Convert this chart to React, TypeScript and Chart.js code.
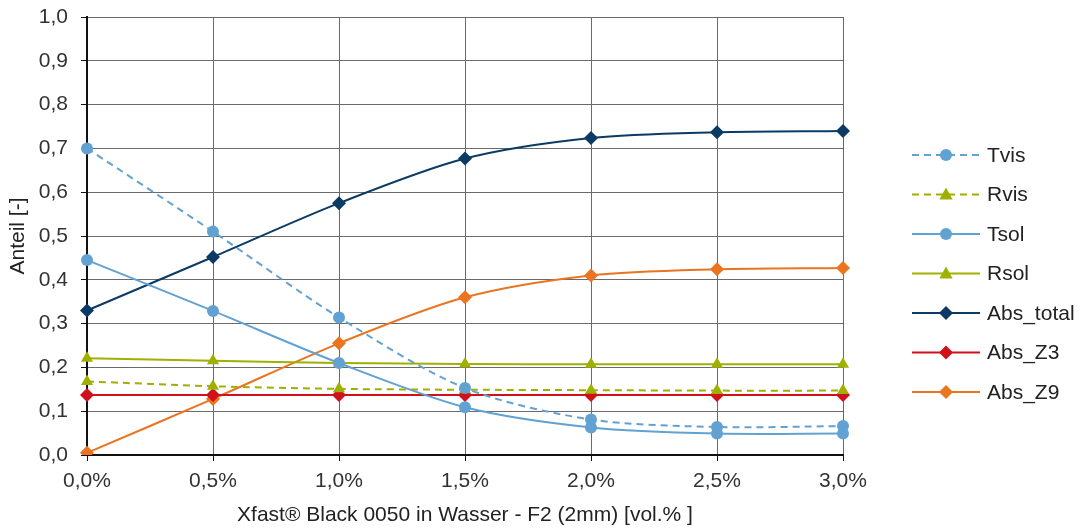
import React, { useEffect, useRef } from "react";
import { Chart, registerables } from "chart.js";

Chart.register(...registerables);

const categories = ["0,0%", "0,5%", "1,0%", "1,5%", "2,0%", "2,5%", "3,0%"];
const tvis = [0.70, 0.51, 0.314, 0.153, 0.081, 0.064, 0.066];
const rvis = [0.168, 0.157, 0.151, 0.149, 0.148, 0.147, 0.147];
const tsol = [0.445, 0.329, 0.21, 0.109, 0.063, 0.049, 0.049];
const rsol = [0.221, 0.215, 0.21, 0.208, 0.207, 0.207, 0.207];
const absTotal = [0.33, 0.452, 0.575, 0.677, 0.724, 0.737, 0.74];
const absZ3 = [0.137, 0.137, 0.137, 0.137, 0.137, 0.137, 0.137];
const absZ9 = [0.005, 0.128, 0.255, 0.36, 0.41, 0.424, 0.427];
const yTicks = [0, 0.1, 0.2, 0.3, 0.4, 0.5, 0.6, 0.7, 0.8, 0.9, 1.0];

const BLUE = "#62a2d2";
const GREEN = "#9fb000";
const NAVY = "#0b3b64";
const RED = "#d0101c";
const ORANGE = "#ea7420";
const FONT = "'Liberation Sans', Arial, sans-serif";

function drawMarker(ctx: CanvasRenderingContext2D, style: string, x: number, y: number, r: number, color: string) {
  ctx.save();
  ctx.fillStyle = color;
  ctx.setLineDash([]);
  ctx.beginPath();
  if (style === "circle") {
    ctx.arc(x, y, r, 0, Math.PI * 2);
  } else if (style === "triangle") {
    ctx.moveTo(x, y - r);
    ctx.lineTo(x + r * 0.95, y + r * 0.7);
    ctx.lineTo(x - r * 0.95, y + r * 0.7);
    ctx.closePath();
  } else {
    ctx.moveTo(x, y - r);
    ctx.lineTo(x + r, y);
    ctx.lineTo(x, y + r);
    ctx.lineTo(x - r, y);
    ctx.closePath();
  }
  ctx.fill();
  ctx.restore();
}

const legendPlugin = {
  id: "customLegend",
  afterDraw(chart: any) {
    const ctx = chart.ctx as CanvasRenderingContext2D;
    const ds = chart.data.datasets;
    ctx.save();
    ds.forEach((d: any, i: number) => {
      const y = 155 + i * 39.5;
      ctx.strokeStyle = d.borderColor;
      ctx.lineWidth = 2;
      ctx.setLineDash(d.borderDash || []);
      ctx.beginPath();
      ctx.moveTo(912, y);
      ctx.lineTo(980, y);
      ctx.stroke();
      drawMarker(ctx, d.legendStyle, 946, y, d.legendR, d.borderColor);
      ctx.setLineDash([]);
      ctx.fillStyle = "#222";
      ctx.font = "21px " + FONT;
      ctx.textBaseline = "middle";
      ctx.textAlign = "left";
      ctx.fillText(d.label, 987, y + 1);
    });
    ctx.restore();
  },
};

export default function App() {
  const ref = useRef<HTMLCanvasElement>(null);
  useEffect(() => {
    document.body.style.margin = "0";
    const mk = (label: string, data: number[], color: string, style: string, dashed: boolean) => ({
      label,
      data,
      borderColor: color,
      backgroundColor: color,
      pointBackgroundColor: color,
      pointBorderColor: color,
      pointStyle: style === "diamond" ? "rectRot" : style,
      legendStyle: style,
      legendR: style === "circle" ? 6 : 7,
      pointRadius: style === "circle" ? 6 : 7,
      pointBorderWidth: 0,
      borderWidth: 2,
      borderDash: dashed ? [7, 5] : [],
      tension: 0.3,
      fill: false,
    });
    const chart = new Chart(ref.current!, {
      type: "line",
      data: {
        labels: categories,
        datasets: [
          mk("Tvis", tvis, BLUE, "circle", true),
          mk("Rvis", rvis, GREEN, "triangle", true),
          mk("Tsol", tsol, BLUE, "circle", false),
          mk("Rsol", rsol, GREEN, "triangle", false),
          mk("Abs_total", absTotal, NAVY, "diamond", false),
          mk("Abs_Z3", absZ3, RED, "diamond", false),
          mk("Abs_Z9", absZ9, ORANGE, "diamond", false),
        ] as any,
      },
      options: {
        animation: false,
        responsive: false,
        layout: { padding: { left: 0, right: 1084 - 843, top: 17, bottom: 0 } },
        plugins: { legend: { display: false }, tooltip: { enabled: false } },
        scales: {
          x: {
            type: "category",
            offset: false,
            grid: { color: "#6a6a6a", lineWidth: 1, drawTicks: true, tickLength: 6, tickColor: "#111" },
            border: { color: "#111", width: 2 },
            ticks: {
              color: "#333",
              font: { family: FONT, size: 21 },
              padding: 8,
              maxRotation: 0,
            },
            title: {
              display: true,
              text: "Xfast® Black 0050 in Wasser - F2 (2mm) [vol.% ]",
              color: "#222",
              font: { family: FONT, size: 21 },
              padding: { top: 4, bottom: 1 },
            },
            afterFit: (s: any) => {
              s.height = 529 - 455;
              s.paddingLeft = 0;
              s.paddingRight = 0;
            },
          },
          y: {
            min: 0,
            max: 1,
            afterBuildTicks: (s: any) => { s.ticks = yTicks.map((v) => ({ value: v })); },
            grid: { color: "#6a6a6a", lineWidth: 1, drawTicks: true, tickLength: 6, tickColor: "#111" },
            border: { color: "#111", width: 2 },
            ticks: {
              color: "#333",
              font: { family: FONT, size: 21 },
              padding: 13,
              callback: (v: any) => Number(v).toFixed(1).replace(".", ","),
            },
            title: {
              display: true,
              text: "Anteil [-]",
              color: "#222",
              font: { family: FONT, size: 21 },
              padding: { top: 6, bottom: 4 },
            },
            afterFit: (s: any) => {
              s.width = 87;
              s.paddingTop = 0;
              s.paddingBottom = 0;
            },
          },
        },
      },
      plugins: [legendPlugin],
    });
    return () => chart.destroy();
  }, []);
  return (
    <div style={{ position: "absolute", left: 0, top: 0, width: 1084, height: 529, background: "#fff" }}>
      <canvas ref={ref} width={1084} height={529} style={{ width: 1084, height: 529 }} />
    </div>
  );
}
